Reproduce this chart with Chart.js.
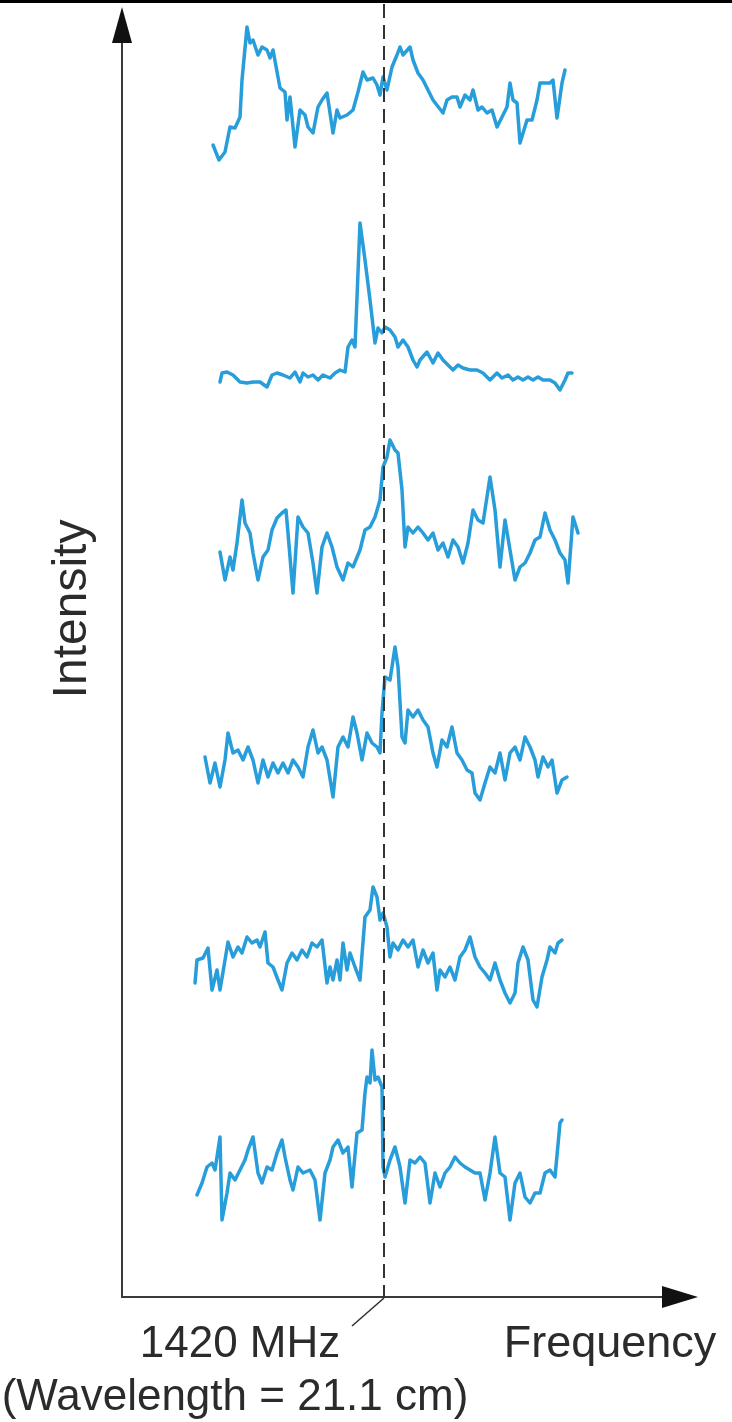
<!DOCTYPE html>
<html>
<head>
<meta charset="utf-8">
<script src="https://cdn.jsdelivr.net/npm/chart.js@4/dist/chart.umd.min.js"></script>
<style>
  html, body { margin: 0; padding: 0; background: #ffffff; }
  #wrap { width: 732px; height: 1422px; }
  canvas { display: block; }
</style>
</head>
<body>
<div id="wrap"><canvas id="c" width="732" height="1422"></canvas></div>
<script>
// ---- Data (frequency offset from 1420 MHz, arbitrary units; intensity, arbitrary units) ----
const spectrum1Freq = [-171,-165,-159,-154,-149,-144,-142,-137,-134,-131,-126,-122,-117,-114,-111,-104,-99,-97,-94,-89,-84,-79,-76,-71,-66,-62,-57,-51,-47,-44,-37,-31,-26,-21,-17,-11,-7,-4,-1,3,8,13,16,19,26,29,34,39,44,49,59,63,68,73,76,81,86,89,94,98,103,108,113,118,123,126,129,133,136,143,148,153,156,166,169,173,178,181];
const spectrum1Intensity = [15,0,8,33,32,43,80,133,117,120,105,113,110,102,110,72,68,40,63,13,50,45,33,27,53,60,67,27,50,42,45,50,68,88,80,82,75,65,83,70,93,105,113,105,113,100,87,80,70,60,47,60,63,63,53,65,60,70,50,53,47,50,33,43,53,77,60,57,17,40,40,60,77,77,80,42,77,90];

const spectrum2Freq = [-164,-162,-157,-151,-144,-137,-131,-124,-117,-112,-107,-101,-94,-89,-84,-81,-76,-71,-66,-61,-54,-49,-44,-39,-36,-32,-29,-24,-19,-14,-9,-6,-2,1,6,11,14,19,24,29,33,36,43,49,54,59,64,69,74,79,86,93,99,106,113,118,124,129,134,139,144,149,154,159,166,171,176,181,184,188];
const spectrum2Intensity = [8,17,18,15,8,7,8,8,3,15,17,15,12,18,8,17,13,15,10,15,12,17,20,18,43,50,43,167,130,90,47,62,57,63,60,53,43,50,43,30,23,30,38,27,37,30,25,20,25,22,20,20,17,10,17,12,15,10,13,10,13,10,13,10,10,7,0,10,17,17];

const spectrum3Freq = [-164,-159,-154,-151,-147,-142,-139,-134,-131,-126,-121,-116,-112,-107,-102,-98,-96,-91,-86,-81,-76,-71,-67,-62,-57,-52,-47,-41,-36,-31,-24,-19,-14,-9,-4,-1,3,6,11,14,18,21,24,29,34,39,44,49,54,59,64,69,74,79,84,89,94,99,106,111,116,121,126,131,136,141,146,151,156,161,166,171,176,181,184,189,194];
const spectrum3Intensity = [41,13,36,23,50,93,70,60,40,13,36,43,63,75,80,83,60,0,76,66,60,30,0,46,60,46,26,13,30,26,43,63,66,76,93,126,136,153,143,140,103,46,66,60,66,60,53,60,43,50,36,53,46,30,50,83,73,70,116,83,26,73,43,13,26,30,40,53,56,80,63,53,40,33,10,76,60];

const spectrum4Freq = [-179,-174,-169,-164,-159,-156,-151,-146,-141,-136,-131,-126,-121,-116,-111,-106,-101,-96,-91,-86,-81,-76,-71,-66,-62,-57,-51,-46,-41,-36,-31,-27,-22,-17,-12,-7,-4,-2,1,6,11,14,18,21,24,29,34,39,44,49,53,58,63,68,73,78,83,88,91,96,101,106,111,116,121,126,131,136,141,146,151,154,159,164,168,173,178,183];
const spectrum4Intensity = [43,17,37,13,40,67,47,50,40,53,40,17,40,23,37,27,37,27,40,33,23,53,70,47,53,40,3,53,63,53,83,67,40,67,57,53,47,87,123,120,153,133,63,57,90,83,90,80,73,47,33,60,53,73,47,40,30,27,7,0,17,33,27,47,20,47,53,40,63,53,40,23,43,33,40,7,20,23];

const spectrum5Freq = [-189,-187,-181,-176,-172,-167,-164,-159,-156,-151,-146,-142,-137,-132,-127,-124,-119,-116,-111,-106,-102,-97,-92,-87,-82,-77,-72,-67,-62,-57,-54,-51,-47,-44,-41,-37,-34,-29,-24,-19,-14,-11,-7,-4,-1,3,6,9,14,19,24,29,34,39,44,49,53,56,61,66,71,76,81,86,91,96,101,106,111,116,121,126,131,134,139,144,149,153,158,163,166,171,174,178];
const spectrum5Intensity = [24,47,49,59,17,37,17,47,65,50,60,54,70,64,67,60,75,44,40,27,17,44,54,47,57,50,64,60,67,24,40,27,47,27,64,37,54,40,27,90,97,120,110,87,94,80,50,64,57,67,60,67,40,57,44,54,17,37,30,40,27,50,57,70,50,40,34,27,44,27,14,4,14,44,60,47,7,0,30,47,60,54,64,67];

const spectrum6Freq = [-187,-182,-177,-172,-169,-164,-162,-157,-154,-149,-144,-139,-136,-131,-126,-122,-117,-112,-107,-102,-99,-94,-91,-86,-81,-74,-69,-64,-59,-54,-51,-46,-41,-36,-32,-27,-22,-19,-17,-14,-12,-9,-6,-2,-1,1,6,11,16,21,26,31,36,41,46,51,56,61,66,71,76,81,86,91,96,101,106,111,116,121,126,131,136,141,146,151,156,161,166,171,176,178];
const spectrum6Intensity = [25,37,53,57,50,83,0,27,47,40,50,60,70,83,47,37,53,50,67,80,63,40,30,53,47,50,40,0,47,60,73,80,67,73,33,87,90,127,143,137,170,140,143,133,53,43,60,73,53,17,60,57,63,57,17,47,33,47,53,63,57,53,50,47,47,20,47,83,47,43,0,37,47,23,17,27,27,47,50,43,97,100];

// Vertical stacking of the six spectra (baseline of each trace on the intensity axis)
const spectrumBaselines = [1137, 907, 704, 497, 290, 77];

// Text labels
const yAxisTitle = 'Intensity';
const xAxisTitle = 'Frequency';
const lineFreq = 0; // 1420 MHz reference line
const lineLabel = ['1420 MHz', '(Wavelength = 21.1 cm)'];

// ---- Build datasets ----
const freqs = [spectrum1Freq, spectrum2Freq, spectrum3Freq, spectrum4Freq, spectrum5Freq, spectrum6Freq];
const intens = [spectrum1Intensity, spectrum2Intensity, spectrum3Intensity, spectrum4Intensity, spectrum5Intensity, spectrum6Intensity];
const LINE_COLOR = '#279dda';
const datasets = freqs.map((f, k) => ({
  label: 'Spectrum ' + (k + 1),
  data: f.map((x, i) => ({ x: x, y: spectrumBaselines[k] + intens[k][i] })),
  borderColor: LINE_COLOR,
  backgroundColor: LINE_COLOR,
  borderWidth: 3.5,
  borderJoinStyle: 'round',
  borderCapStyle: 'round',
  pointRadius: 0,
  tension: 0,
  fill: false
}));

const X_MIN = -262, X_MAX = 314, Y_MIN = 0, Y_MAX = 1290;
const INK = '#2b2b2b';
const FONT = '"Liberation Sans", Arial, Helvetica, sans-serif';

const decor = {
  id: 'decor',
  beforeDraw(chart) {
    const ctx = chart.ctx;
    ctx.save();
    ctx.fillStyle = '#ffffff';
    ctx.fillRect(0, 0, chart.width, chart.height);
    ctx.restore();
  },
  afterDatasetsDraw(chart) {
    const ctx = chart.ctx;
    const xs = chart.scales.x, ys = chart.scales.y;
    const x0 = xs.getPixelForValue(X_MIN);
    const xEnd = xs.getPixelForValue(X_MAX);
    const y0 = ys.getPixelForValue(Y_MIN);
    const yTop = ys.getPixelForValue(Y_MAX);
    const xl = xs.getPixelForValue(lineFreq);
    ctx.save();
    // top border
    ctx.fillStyle = '#000';
    ctx.fillRect(0, 0, chart.width, 3);
    // axes
    ctx.strokeStyle = '#3a3a3a';
    ctx.lineWidth = 2;
    ctx.beginPath();
    ctx.moveTo(x0, yTop + 30);
    ctx.lineTo(x0, y0);
    ctx.lineTo(xEnd - 30, y0);
    ctx.stroke();
    // arrowheads
    ctx.fillStyle = '#111';
    ctx.beginPath();
    ctx.moveTo(x0, yTop);
    ctx.lineTo(x0 - 10, yTop + 36);
    ctx.lineTo(x0 + 10, yTop + 36);
    ctx.closePath();
    ctx.fill();
    ctx.beginPath();
    ctx.moveTo(xEnd, y0);
    ctx.lineTo(xEnd - 36, y0 - 11);
    ctx.lineTo(xEnd - 36, y0 + 11);
    ctx.closePath();
    ctx.fill();
    // dashed reference line at 1420 MHz
    ctx.strokeStyle = '#333';
    ctx.lineWidth = 2;
    ctx.setLineDash([14, 7]);
    ctx.beginPath();
    ctx.moveTo(xl, 4);
    ctx.lineTo(xl, y0);
    ctx.stroke();
    ctx.setLineDash([]);
    // leader to label
    ctx.lineWidth = 1.6;
    ctx.beginPath();
    ctx.moveTo(xl, y0 + 1);
    ctx.lineTo(xl - 32, y0 + 29);
    ctx.stroke();
    // texts
    ctx.fillStyle = INK;
    ctx.textBaseline = 'alphabetic';
    ctx.textAlign = 'center';
    ctx.font = '44px ' + FONT;
    ctx.fillText(lineLabel[0], 240, 1357);
    ctx.fillText(lineLabel[1], 235, 1410);
    ctx.font = '45px ' + FONT;
    ctx.fillText(xAxisTitle, 610, 1357);
    ctx.translate(86, 609);
    ctx.rotate(-Math.PI / 2);
    ctx.font = '48px ' + FONT;
    ctx.fillText(yAxisTitle, 0, 0);
    ctx.restore();
  }
};

new Chart(document.getElementById('c'), {
  type: 'line',
  data: { datasets: datasets },
  options: {
    responsive: false,
    animation: false,
    events: [],
    layout: { padding: { left: 122, right: 34, top: 7, bottom: 125 } },
    plugins: { legend: { display: false }, tooltip: { enabled: false }, title: { display: false } },
    scales: {
      x: { type: 'linear', min: X_MIN, max: X_MAX, display: false },
      y: { type: 'linear', min: Y_MIN, max: Y_MAX, display: false }
    }
  },
  plugins: [decor]
});
</script>
</body>
</html>
